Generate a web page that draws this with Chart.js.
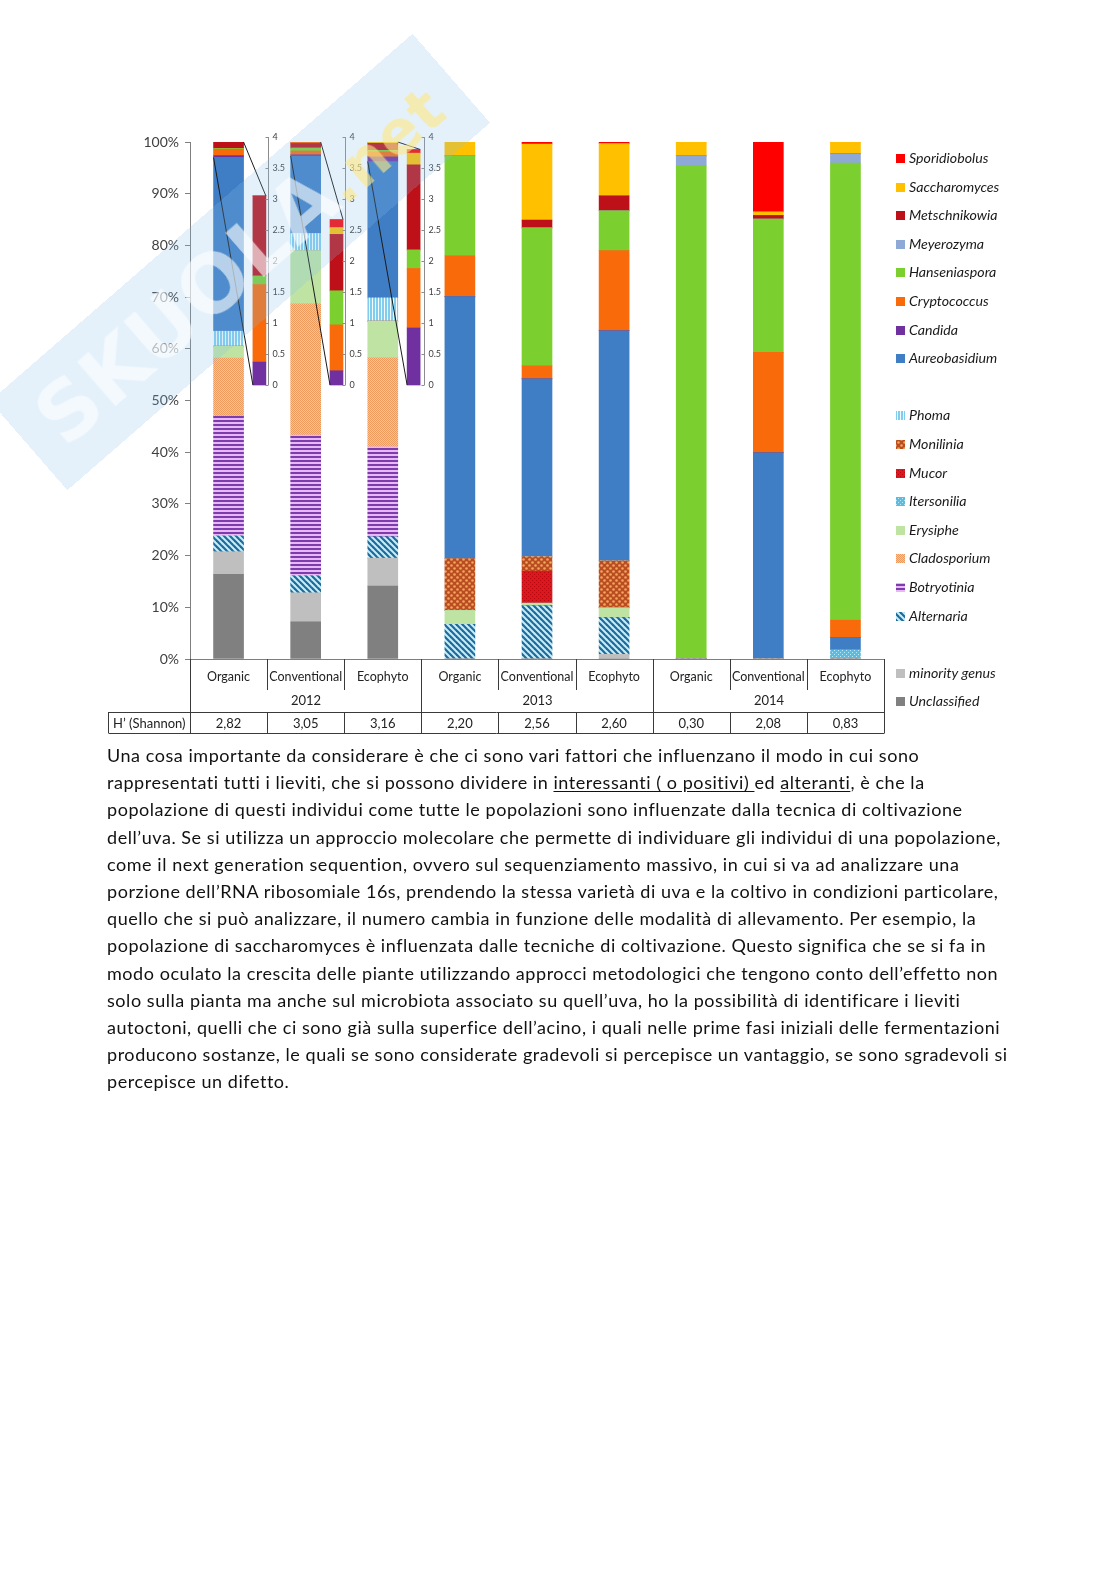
<!DOCTYPE html>
<html lang="it">
<head>
<meta charset="utf-8">
<title>Lieviti e muffe su uva 2012-2014</title>
<script src="https://cdn.jsdelivr.net/npm/chart.js@4.4.1/dist/chart.umd.min.js"></script>
<style>
  html, body { margin: 0; padding: 0; background: #fff; }
  #pagina { position: relative; width: 1116px; height: 1579px; overflow: hidden; }
  #grafico { position: absolute; left: 0; top: 0; }
  #testo {
    position: absolute; left: 107px; top: 742px;
    font-family: Lato, "Open Sans", sans-serif; font-size: 18px; letter-spacing: 0.55px; line-height: 27.2px;
    color: #111; white-space: nowrap;
  }
  #testo u { text-underline-offset: 2px; }
  /* filigrana del sito, sopra al grafico */
  #filigrana {
    position: absolute; left: -40px; top: 203px; width: 560px; height: 118px;
    transform: rotate(-41deg); transform-origin: 50% 50%;
    background: rgba(130, 190, 235, 0.22); pointer-events: none;
    font-family: "DejaVu Sans", sans-serif; font-weight: bold; font-size: 80px; line-height: 118px;
    color: rgba(255, 255, 255, 0.6); text-align: center; letter-spacing: 1px; white-space: nowrap;
  }
  #filigrana span { color: rgba(255, 232, 130, 0.6); font-size: 60px; }
</style>
</head>
<body>
<div id="pagina">
  <canvas id="grafico" width="1116" height="745"></canvas>
  <div id="filigrana">SKUOLA<span>.net</span></div>
  <div id="testo">
    Una cosa importante da considerare è che ci sono vari fattori che influenzano il modo in cui sono<br>
    rappresentati tutti i lieviti, che si possono dividere in <u>interessanti ( o positivi) </u>ed <u>alteranti</u>, è che la<br>
    popolazione di questi individui come tutte le popolazioni sono influenzate dalla tecnica di coltivazione<br>
    dell’uva. Se si utilizza un approccio molecolare che permette di individuare gli individui di una popolazione,<br>
    come il next generation sequention, ovvero sul sequenziamento massivo, in cui si va ad analizzare una<br>
    porzione dell’RNA ribosomiale 16s, prendendo la stessa varietà di uva e la coltivo in condizioni particolare,<br>
    quello che si può analizzare, il numero cambia in funzione delle modalità di allevamento. Per esempio, la<br>
    popolazione di saccharomyces è influenzata dalle tecniche di coltivazione. Questo significa che se si fa in<br>
    modo oculato la crescita delle piante utilizzando approcci metodologici che tengono conto dell’effetto non<br>
    solo sulla pianta ma anche sul microbiota associato su quell’uva, ho la possibilità di identificare i lieviti<br>
    autoctoni, quelli che ci sono già sulla superfice dell’acino, i quali nelle prime fasi iniziali delle fermentazioni<br>
    producono sostanze, le quali se sono considerate gradevoli si percepisce un vantaggio, se sono sgradevoli si<br>
    percepisce un difetto.
  </div>
</div>
<script>
// =========================================================
// DATI (percentuali)
// =========================================================
const categorie = ['Organic', 'Conventional', 'Ecophyto', 'Organic', 'Conventional', 'Ecophyto', 'Organic', 'Conventional', 'Ecophyto'];
const anni = ['2012', '2013', '2014'];
const shannon = ['2,82', '3,05', '3,16', '2,20', '2,56', '2,60', '0,30', '2,08', '0,83'];
const tickInserto = [0, 0.5, 1, 1.5, 2, 2.5, 3, 3.5, 4];

// muffe e altri (dal basso verso l'alto)
const unclassified  = [16.4, 7.2, 14.1, 0, 0, 0, 0, 0, 0];
const minorityGenus = [4.35, 5.6, 5.4, 0, 0, 0.9, 0, 0, 0];
const alternaria    = [3.05, 3.3, 4.15, 6.7, 10.3, 7.1, 0, 0, 0];
const botryotinia   = [23.2, 27.2, 17.4, 0, 0, 0, 0, 0, 0];
const cladosporium  = [11.2, 25.4, 17.2, 0, 0, 0, 0, 0, 0];
const erysiphe      = [2.3, 10.3, 7.1, 2.7, 0.5, 1.9, 0, 0, 0];
const itersonilia   = [0, 0, 0, 0, 0, 0, 0, 0, 1.8];
const mucor         = [0, 0, 0, 0, 6.2, 0, 0, 0, 0];
const monilinia     = [0, 0, 0, 10.0, 2.8, 9.1, 0, 0, 0];
const phoma         = [2.9, 3.3, 4.5, 0, 0, 0, 0, 0, 0];
// lieviti
const aureobasidium = [33.6, 15.0, 26.35, 50.7, 34.4, 44.5, 0, 39.9, 2.35];
const candida       = [0.37, 0.23, 0.92, 0, 0, 0, 0, 0, 0];
const cryptococcus  = [1.25, 0.74, 0.96, 7.9, 2.5, 15.5, 0, 19.4, 3.35];
const hanseniaspora = [0.14, 0.55, 0.30, 19.3, 26.7, 7.7, 95.5, 25.8, 88.4];
const meyerozyma    = [0, 0, 0, 0, 0, 0, 1.8, 0, 1.8];
const metschnikowia = [1.29, 0.91, 1.37, 0, 1.5, 2.9, 0, 0.7, 0];
const saccharomyces = [0, 0.11, 0.19, 2.8, 14.7, 10.1, 2.7, 0.7, 2.3];
const sporidiobolus = [0, 0.13, 0.06, 0, 0.5, 0.3, 0, 13.5, 0];

// ordine della legenda (dall'alto), null = riga vuota
const legendaVoci = [
  'Sporidiobolus', 'Saccharomyces', 'Metschnikowia', 'Meyerozyma', 'Hanseniaspora', 'Cryptococcus', 'Candida', 'Aureobasidium',
  null,
  'Phoma', 'Monilinia', 'Mucor', 'Itersonilia', 'Erysiphe', 'Cladosporium', 'Botryotinia', 'Alternaria',
  null,
  'minority genus', 'Unclassified'
];
// lieviti riportati nei riquadri ingranditi (solo 2012)
const lievitiInserto = ['Candida', 'Cryptococcus', 'Hanseniaspora', 'Metschnikowia', 'Saccharomyces', 'Sporidiobolus'];

// =========================================================
// RIEMPIMENTI (colori e trame)
// =========================================================
function creaPattern(w, h, disegna) {
  const c = document.createElement('canvas');
  c.width = w; c.height = h;
  const g = c.getContext('2d');
  disegna(g, w, h);
  return g.createPattern(c, 'repeat');
}

const trattiDiagonali = creaPattern(6, 6, (g, w, h) => {
  g.fillStyle = '#c6eef9'; g.fillRect(0, 0, w, h);
  g.strokeStyle = '#1f6a9a'; g.lineWidth = 2.2;
  [-6, 0, 6].forEach(o => { g.beginPath(); g.moveTo(o - 1, -1); g.lineTo(o + 7, 7); g.stroke(); });
});
const righeOrizzontali = creaPattern(4, 4, (g) => {
  g.fillStyle = '#7d3cae'; g.fillRect(0, 0, 4, 2);
  g.fillStyle = '#e8b8f2'; g.fillRect(0, 2, 4, 2);
});
const scacchiArancio = creaPattern(2, 2, (g) => {
  g.fillStyle = '#f7c59c'; g.fillRect(0, 0, 2, 2);
  g.fillStyle = '#ee9a5c'; g.fillRect(0, 0, 1, 1); g.fillRect(1, 1, 1, 1);
});
const pallini = creaPattern(6, 6, (g, w, h) => {
  g.fillStyle = '#b94d22'; g.fillRect(0, 0, w, h);
  g.fillStyle = '#f3a659';
  [[1.5, 1.5], [4.5, 4.5]].forEach(([cx, cy]) => { g.beginPath(); g.arc(cx, cy, 1.3, 0, Math.PI * 2); g.fill(); });
});
const rossoPuntinato = creaPattern(4, 4, (g) => {
  g.fillStyle = '#e3151c'; g.fillRect(0, 0, 4, 4);
  g.fillStyle = '#b20a10'; g.fillRect(0, 0, 1, 1); g.fillRect(2, 2, 1, 1);
});
const azzurroPuntinato = creaPattern(4, 4, (g) => {
  g.fillStyle = '#58bde2'; g.fillRect(0, 0, 4, 4);
  g.fillStyle = '#bfe8f6'; g.fillRect(0, 0, 1, 1); g.fillRect(2, 2, 1, 1);
});
const righeVerticali = creaPattern(3, 1, (g) => {
  g.fillStyle = '#80cdee'; g.fillRect(0, 0, 3, 1);
  g.fillStyle = '#f2fafe'; g.fillRect(0, 0, 1, 1);
});

// serie nell'ordine di impilamento (dal basso)
const serie = [
  ['Unclassified', unclassified, '#808080'],
  ['minority genus', minorityGenus, '#bfbfbf'],
  ['Alternaria', alternaria, trattiDiagonali],
  ['Botryotinia', botryotinia, righeOrizzontali],
  ['Cladosporium', cladosporium, scacchiArancio],
  ['Erysiphe', erysiphe, '#bee3a2'],
  ['Itersonilia', itersonilia, azzurroPuntinato],
  ['Mucor', mucor, rossoPuntinato],
  ['Monilinia', monilinia, pallini],
  ['Phoma', phoma, righeVerticali],
  ['Aureobasidium', aureobasidium, '#3f7ec4'],
  ['Candida', candida, '#7030a0'],
  ['Cryptococcus', cryptococcus, '#f86a0a'],
  ['Hanseniaspora', hanseniaspora, '#7bcf2f'],
  ['Meyerozyma', meyerozyma, '#8fa9d6'],
  ['Metschnikowia', metschnikowia, '#be1018'],
  ['Saccharomyces', saccharomyces, '#ffc000'],
  ['Sporidiobolus', sporidiobolus, '#ff0000']
];

const SCOSTAMENTO_INSERTO = 0.4; // posizione della barra ingrandita nella categoria

const datasetsPrincipali = serie.map(([nome, dati, colore]) => ({
  label: nome,
  data: dati,
  backgroundColor: colore,
  stack: 'principale',
  xAxisID: 'x',
  yAxisID: 'y',
  grouped: false,
  barThickness: 30,
  borderWidth: 0
}));

const datasetsInserto = serie
  .filter(([nome]) => lievitiInserto.includes(nome))
  .map(([nome, dati, colore]) => ({
    label: nome + ' (dettaglio)',
    data: dati.slice(0, 3).map((v, i) => ({ x: i + SCOSTAMENTO_INSERTO, y: v })),
    backgroundColor: colore,
    stack: 'inserto',
    xAxisID: 'xIn',
    yAxisID: 'yIn',
    grouped: false,
    barThickness: 13,
    borderWidth: 0
  }));

// =========================================================
// PLUGIN: linee di collegamento, assi dei riquadri, tabella, legenda
// =========================================================
const pluginCollegamenti = {
  id: 'collegamenti',
  afterDatasetsDraw(chart) {
    const { ctx, scales } = chart;
    const metaAureo = chart.getDatasetMeta(serie.findIndex(s => s[0] === 'Aureobasidium'));
    const metaInserti = datasetsInserto.map((_, k) => chart.getDatasetMeta(datasetsPrincipali.length + k));
    ctx.save();
    ctx.strokeStyle = '#1a1a1a';
    ctx.lineWidth = 1;
    for (let i = 0; i < 3; i++) {
      const barra = metaAureo.data[i];
      const sx = barra.x - barra.width / 2;
      const dx = barra.x + barra.width / 2;
      const cima = metaInserti[metaInserti.length - 1].data[i];
      const inSx = cima.x - cima.width / 2;
      const inDx = cima.x + cima.width / 2;
      ctx.beginPath();
      ctx.moveTo(dx, scales.y.getPixelForValue(100));
      ctx.lineTo(inDx, cima.y);
      ctx.moveTo(sx, barra.y);
      ctx.lineTo(inSx, scales.yIn.getPixelForValue(0));
      ctx.stroke();
    }
    ctx.restore();
  }
};

const pluginAssiInserto = {
  id: 'assiInserto',
  afterDraw(chart) {
    const { ctx, scales: { x, yIn } } = chart;
    const aggiusta = [1, 1, 3];
    ctx.save();
    ctx.font = '9px Lato, sans-serif';
    ctx.textBaseline = 'middle';
    ctx.textAlign = 'left';
    for (let i = 0; i < 3; i++) {
      const xa = Math.round(x.getPixelForValue(i + 0.5)) + aggiusta[i] + 0.5;
      ctx.strokeStyle = '#8c8c8c';
      ctx.lineWidth = 1;
      ctx.beginPath();
      ctx.moveTo(xa, yIn.getPixelForValue(0));
      ctx.lineTo(xa, yIn.getPixelForValue(tickInserto[tickInserto.length - 1]));
      tickInserto.forEach(t => {
        const yy = Math.round(yIn.getPixelForValue(t)) + 0.5;
        ctx.moveTo(xa - 3, yy);
        ctx.lineTo(xa, yy);
      });
      ctx.stroke();
      ctx.fillStyle = '#404040';
      tickInserto.forEach(t => ctx.fillText(String(t), xa + 4, yIn.getPixelForValue(t)));
    }
    ctx.restore();
  }
};

const pluginTabella = {
  id: 'tabellaDati',
  afterDraw(chart) {
    const { ctx, chartArea, scales: { x } } = chart;
    const alto = chartArea.bottom;
    const fineTratt = alto + 31;
    const rigaH = alto + 53;
    const fondo = alto + 74;
    const sinistraH = 108;
    const bordi = [];
    for (let i = 0; i <= categorie.length; i++) bordi.push(Math.round(x.getPixelForValue(i - 0.5)) + 0.5);

    ctx.save();
    ctx.lineWidth = 1;
    // asse orizzontale dello 0%
    ctx.strokeStyle = '#7f7f7f';
    ctx.beginPath();
    ctx.moveTo(bordi[0], Math.round(alto) + 0.5);
    ctx.lineTo(bordi[bordi.length - 1], Math.round(alto) + 0.5);
    ctx.stroke();

    ctx.strokeStyle = '#3a3a3a';
    ctx.beginPath();
    bordi.forEach((bx, i) => {
      if (i % 3 === 0) {
        ctx.moveTo(bx, alto); ctx.lineTo(bx, fondo);
      } else {
        ctx.moveTo(bx, alto); ctx.lineTo(bx, fineTratt);
        ctx.moveTo(bx, rigaH); ctx.lineTo(bx, fondo);
      }
    });
    [rigaH, fondo].forEach(yy => {
      ctx.moveTo(sinistraH + 0.5, Math.round(yy) + 0.5);
      ctx.lineTo(bordi[bordi.length - 1], Math.round(yy) + 0.5);
    });
    ctx.moveTo(sinistraH + 0.5, rigaH); ctx.lineTo(sinistraH + 0.5, fondo);
    ctx.stroke();

    ctx.fillStyle = '#222';
    ctx.textAlign = 'center';
    ctx.textBaseline = 'middle';
    ctx.font = '12.5px Lato, sans-serif';
    categorie.forEach((c, i) => ctx.fillText(c, x.getPixelForValue(i), alto + 18));
    ctx.font = '13px Lato, sans-serif';
    anni.forEach((a, k) => ctx.fillText(a, (bordi[k * 3] + bordi[k * 3 + 3]) / 2, alto + 42));
    shannon.forEach((v, i) => ctx.fillText(v, x.getPixelForValue(i), (rigaH + fondo) / 2 + 1));
    ctx.fillText('H\u2019 (Shannon)', (sinistraH + bordi[0]) / 2, (rigaH + fondo) / 2 + 1);
    ctx.restore();
  }
};

const pluginLegenda = {
  id: 'legendaGruppi',
  afterDraw(chart) {
    const { ctx, chartArea } = chart;
    const xq = chartArea.right + 12;
    let yy = 158.5;
    ctx.save();
    ctx.font = 'italic 14.2px Lato, sans-serif';
    ctx.textBaseline = 'middle';
    ctx.textAlign = 'left';
    legendaVoci.forEach(nome => {
      if (nome) {
        const ds = chart.data.datasets.find(d => d.label === nome);
        ctx.fillStyle = ds.backgroundColor;
        ctx.fillRect(xq, Math.round(yy - 4.5), 9, 9);
        ctx.fillStyle = '#1a1a1a';
        ctx.fillText(nome, xq + 13, yy);
      }
      yy += 28.6;
    });
    ctx.restore();
  }
};

// =========================================================
// GRAFICO
// =========================================================
Chart.defaults.font.family = 'Lato, "Open Sans", sans-serif';

new Chart(document.getElementById('grafico'), {
  type: 'bar',
  data: {
    labels: categorie,
    datasets: [...datasetsPrincipali, ...datasetsInserto]
  },
  options: {
    responsive: false,
    animation: false,
    layout: { padding: { left: 100, right: 232, top: 142, bottom: 86 } },
    plugins: {
      legend: { display: false },
      tooltip: { enabled: false }
    },
    scales: {
      x: { type: 'category', display: false, stacked: true },
      y: {
        stacked: true,
        min: 0,
        max: 100,
        afterFit: (s) => { s.width = 90; },
        ticks: { stepSize: 10, padding: 6, color: '#404040', font: { size: 14 }, callback: v => v + '%' },
        grid: { drawOnChartArea: false, drawTicks: true, tickLength: 5, color: '#7f7f7f' },
        border: { color: '#7f7f7f' }
      },
      // assi nascosti dei riquadri ingranditi (0-4 %)
      xIn: { type: 'linear', display: false, min: -0.5, max: 8.5, offset: false },
      yIn: { type: 'linear', display: false, stacked: true, min: -4.42, max: 3.92 }
    }
  },
  plugins: [pluginCollegamenti, pluginAssiInserto, pluginTabella, pluginLegenda]
});
</script>
</body>
</html>
